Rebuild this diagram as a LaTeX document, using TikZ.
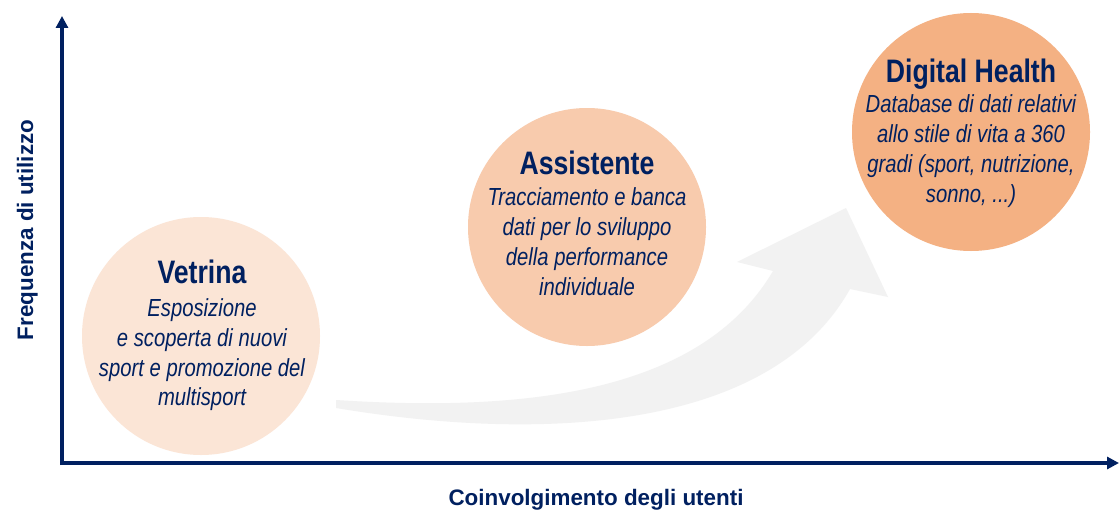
\documentclass[tikz,border=0pt]{standalone}
\usepackage{fontspec}
\setmainfont{Liberation Sans}
\newfontfamily\narrowfont{Liberation Sans}[FakeStretch=0.82]
\usetikzlibrary{arrows.meta}
\definecolor{navy}{RGB}{0,32,96}
\definecolor{peachA}{RGB}{251,229,214}
\definecolor{peachB}{RGB}{248,203,173}
\definecolor{peachC}{RGB}{244,177,131}
\definecolor{arrowgray}{RGB}{242,242,242}
\begin{document}
\begin{tikzpicture}[x=1pt,y=-1pt,
  axis/.style={line width=4pt, draw=navy, -{Triangle[width=12pt,length=12pt]}},
  bubble/.style={circle, minimum size=238pt, inner sep=0pt, draw=none},
  ttl/.style={anchor=base, text=navy, font=\narrowfont\bfseries\fontsize{32.5}{39}\selectfont, inner sep=0pt},
  txt/.style={anchor=base, text=navy, font=\narrowfont\itshape\fontsize{24.7}{30}\selectfont, inner sep=0pt},
  lbl/.style={anchor=base, text=navy, font=\bfseries\fontsize{22.4}{27}\selectfont, inner sep=0pt}]
\useasboundingbox[fill=white] (0,0) rectangle (1119,511);

% growth arrow
\fill[arrowgray] (336,400) .. controls (520,412) and (700,395) .. (773,271)
  -- (737,262) -- (846,208) -- (888,297) -- (850,289)
  .. controls (770,432) and (540,442) .. (336,408) -- cycle;

% bubbles
\node[bubble, fill=peachA] (vetrina) at (201,336) {};
\node[bubble, fill=peachB] (assistente) at (587,227) {};
\node[bubble, fill=peachC] (digital) at (971,132) {};

% Vetrina
\node[ttl] (v0) at (202,283) {Vetrina};
\node[txt] (v1) at (202,316) {Esposizione};
\node[txt] (v2) at (202,346) {e scoperta di nuovi};
\node[txt] (v3) at (202,376) {sport e promozione del};
\node[txt] (v4) at (202,405) {multisport};

% Assistente
\node[ttl] (a0) at (587,174) {Assistente};
\node[txt] (a1) at (587,205) {Tracciamento e banca};
\node[txt] (a2) at (587,235) {dati per lo sviluppo};
\node[txt] (a3) at (587,265) {della performance};
\node[txt] (a4) at (587,295) {individuale};

% Digital Health
\node[ttl] (d0) at (971,82) {Digital Health};
\node[txt] (d1) at (971,112.5) {Database di dati relativi};
\node[txt] (d2) at (971,142.5) {allo stile di vita a 360};
\node[txt] (d3) at (971,172) {gradi (sport, nutrizione,};
\node[txt] (d4) at (971,202) {sonno, ...)};

% axes
\coordinate (ybot) at (62,465);
\coordinate (ytop) at (62,16);
\coordinate (xstart) at (60,463);
\coordinate (xend) at (1119,463);
\draw[axis] (ybot) -- (ytop);
\draw[axis] (xstart) -- (xend);

\node[lbl] (xl) at (596,505) {Coinvolgimento degli utenti};
\node[lbl, rotate=90] (yl) at (33,230) {Frequenza di utilizzo};
\end{tikzpicture}
\end{document}
